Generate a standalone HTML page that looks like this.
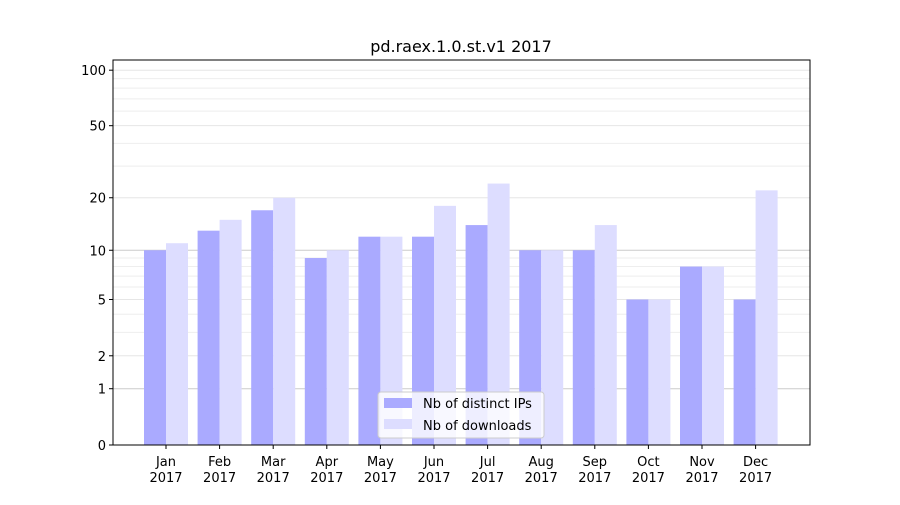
<!DOCTYPE html>
<html><head><meta charset="utf-8"><style>
body{margin:0;background:#fff}
svg text{font-family:"DejaVu Sans","Liberation Sans",sans-serif;}
</style></head><body>
<svg id="c" width="900" height="500" xmlns="http://www.w3.org/2000/svg">
<rect width="900" height="500" fill="#fff"/>
<text x="461" y="52" font-size="16" text-anchor="middle">pd.raex.1.0.st.v1 2017</text>
<g id="grid"></g><g id="bars"></g><g id="axes"></g>
</svg>
<script>
const categories=["Jan","Feb","Mar","Apr","May","Jun","Jul","Aug","Sep","Oct","Nov","Dec"];
const ipValues=[10,13,17,9,12,12,14,10,10,5,8,5];
const downloadValues=[11,15,20,10,12,18,24,10,14,5,8,22];
const majorTicks=[0,1,2,5,10,20,50,100];
const minorTicks=[3,4,6,7,8,9,30,40,60,70,80,90];
const NS="http://www.w3.org/2000/svg";
const L=113,R=810,T=60,B=445;
function y(v){return B-187*Math.log10(1+v);}
function x(i){return 166+i*53.6;}
function mk(tag,attrs,parent,txt){const e=document.createElementNS(NS,tag);for(const k in attrs)e.setAttribute(k,attrs[k]);if(txt!==undefined)e.textContent=txt;document.getElementById(parent).appendChild(e);return e;}
minorTicks.forEach(v=>{const e=mk('line',{x1:L,x2:R,y1:y(v),y2:y(v),stroke:'#eee','stroke-width':1},'grid');

});
majorTicks.forEach(v=>{const e=mk('line',{x1:L,x2:R,y1:y(v),y2:y(v),stroke:(v===1||v===10)?'#ccc':'#e6e6e6','stroke-width':1},'grid');

});
categories.forEach((c,i)=>{
 const a=mk('rect',{x:x(i)-22,y:y(ipValues[i]),width:22,height:B-y(ipValues[i]),fill:'#aaaaff'},'bars');
 
 
 const b=mk('rect',{x:x(i),y:y(downloadValues[i]),width:22,height:B-y(downloadValues[i]),fill:'#ddddff'},'bars');
 
 
 mk('line',{x1:x(i),x2:x(i),y1:B,y2:B+4,stroke:'#000'},'axes');
 const t=mk('text',{x:x(i),y:B+21,'font-size':13,'text-anchor':'middle'},'axes',c);
 
 
 const t2=mk('text',{x:x(i),y:B+37,'font-size':13,'text-anchor':'middle'},'axes','2017');
 
 
});
majorTicks.forEach(v=>{
 mk('line',{x1:L-4,x2:L,y1:y(v),y2:y(v),stroke:'#000'},'axes');
 const t=mk('text',{x:L-7,y:y(v)+5,'font-size':13,'text-anchor':'end'},'axes',String(v));
 
 
});
const f=mk('rect',{x:L,y:T,width:R-L,height:B-T,fill:'none',stroke:'#000','stroke-width':1},'axes');


const lg=mk('g',{},'axes');


lg.innerHTML='<rect x="378" y="392" width="166" height="46" rx="3" fill="#fff" fill-opacity="0.8" stroke="#ccc"/><rect x="384" y="398" width="28" height="10" fill="#aaaaff"/><text x="423" y="408" font-size="13">Nb of distinct IPs</text><rect x="384" y="419" width="28" height="10" fill="#ddddff"/><text x="423" y="430" font-size="13">Nb of downloads</text>';
</script>
</body></html>
